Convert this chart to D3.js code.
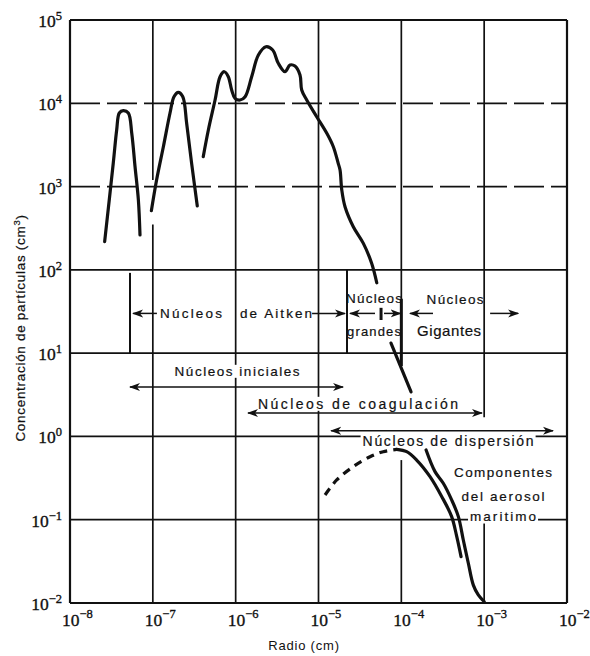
<!DOCTYPE html>
<html><head><meta charset="utf-8">
<script src="https://cdn.jsdelivr.net/npm/d3@7"></script>
<style>body{margin:0;background:#fff}</style>
</head><body><svg id="c" width="590" height="656"></svg>
<script>
// ---- data ----
const xTicks = [1e-8,1e-7,1e-6,1e-5,1e-4,1e-3,1e-2];
const xTickExp = ["−8","−7","−6","−5","−4","−3","−2"];
const yTicks = [1e-2,1e-1,1e0,1e1,1e2,1e3,1e4,1e5];
const yTickExp = ["−2","−1","0","1","2","3","4","5"];
const dashedGridY = [1e3,1e4];

const curve1Radius = [2.62e-8,3.33e-8,3.66e-8,3.94e-8,4.40e-8,5.06e-8,5.56e-8,6.10e-8,6.69e-8,7.00e-8];
const curve1Conc   = [218,1920,4780,7640,8150,7640,4400,1730,690,262];

const curve2Radius = [9.6e-8,1.11e-7,1.34e-7,1.61e-7,1.80e-7,2.03e-7,2.30e-7,2.56e-7,2.94e-7,3.44e-7];
const curve2Conc   = [513,1200,3010,7590,12000,13550,12000,5750,1900,585];

const curve3Radius = [4.06e-7,4.68e-7,5.64e-7,6.48e-7,7.30e-7,8.15e-7,8.95e-7,9.82e-7,1.13e-6,1.30e-6,1.56e-6,1.88e-6,2.32e-6,2.80e-6,3.27e-6,3.94e-6,4.53e-6,5.20e-6,5.98e-6,6.27e-6,7.21e-6,9.51e-6,1.26e-5,1.51e-5,1.73e-5,1.82e-5,1.91e-5,2.09e-5,2.63e-5,3.48e-5,4.38e-5,5.05e-5];
const curve3Conc   = [2285,4780,10950,20860,23930,20860,14450,11480,10950,12000,20860,38000,47800,43600,30200,23930,28800,28000,21900,14450,10950,6900,4360,3010,1900,1580,910,573,330,208,120,70];

const tangentRadius = [7.5e-5,1.31e-4];
const tangentConc   = [13.2,3.42];

const giantRadius = [1.99e-4,2.55e-4,3.21e-4,4.05e-4,4.88e-4,5.60e-4,6.44e-4,7.40e-4,8.49e-4,1.00e-3];
const giantConc   = [0.687,0.378,0.274,0.173,0.109,0.0571,0.030,0.0164,0.0125,0.0104];

const marineRadius = [8.79e-5,1.16e-4,1.53e-4,2.22e-4,3.08e-4,4.05e-4,4.67e-4,5.26e-4];
const marineConc   = [0.70,0.656,0.521,0.329,0.189,0.109,0.0626,0.036];

const marineDashRadius = [1.20e-5,1.66e-5,2.63e-5,4.19e-5,6.05e-5,8.79e-5];
const marineDashConc   = [0.198,0.30,0.434,0.571,0.656,0.70];

// range bars (radius, conc from, conc to)
const barRadius = [5.3e-8, 2.21e-5, 1e-4, 5.69e-5];
const barFrom   = [92, 100, 45, 35];
const barTo     = [10, 10, 7, 25];

// arrows (start radius, end radius, conc, both heads?)
const arrowFrom = [1.12e-7, 8.36e-6, 4.81e-5, 6.18e-5, 2.41e-4, 1.18e-3, 5.30e-8, 1.41e-6, 1.42e-5];
const arrowTo   = [5.77e-8, 2.09e-5, 2.40e-5, 9.8e-5, 1.27e-4, 2.57e-3, 1.98e-5, 9.42e-4, 6.78e-3];
const arrowConc = [30, 30, 30, 30, 30, 30, 3.93, 1.91, 1.17];
const arrowBoth = [false,false,false,false,false,false,true,true,true];

// labels
const labelText   = ["Núcleos","de Aitken","Núcleos","grandes","Núcleos","Gigantes","Núcleos iniciales","Núcleos de coagulación","Núcleos de dispersión","Componentes","del aerosol","maritimo"];
const labelRadius = [2.89e-7,3.07e-6,4.68e-5,4.68e-5,4.45e-4,3.77e-4,1.04e-6,3.0e-5,3.67e-4,1.69e-3,1.69e-3,1.69e-3];
const labelConc   = [30,30,45.9,18.5,45,18.5,6.1,2.45,0.865,0.374,0.193,0.111];

// grid breaks (vertical line radius, conc range hidden)
const breakRadius = [1e-7, 1e-4, 1e-3];
const breakLow    = [350, 0.52, 0.09];
const breakHigh   = [1200, 7, 1.7];

// ---- styling ----
const labelStyle = {
  "Núcleos":{size:13.5,w:[62,56,57]}, "de Aitken":{size:13.5,w:[72]}, "grandes":{size:13,w:[54]},
  "Gigantes":{size:15,w:[64]}, "Núcleos iniciales":{size:13.5,w:[125]},
  "Núcleos de coagulación":{size:14,w:[200]}, "Núcleos de dispersión":{size:14,w:[171]},
  "Componentes":{size:13.5,w:[98]}, "del aerosol":{size:13.5,w:[83]}, "maritimo":{size:13.5,w:[66]}
};

// ---- drawing ----
const svg = d3.select("#c");
const x = d3.scaleLog().domain([1e-8,1e-2]).range([70,567]);
const y = d3.scaleLog().domain([1e-2,1e5]).range([603,20]);
const ink = "#111";
const sans = "'Liberation Sans', Arial, sans-serif";
const serif = "'Liberation Serif', 'Times New Roman', serif";

svg.append("defs").append("marker")
  .attr("id","ah").attr("viewBox","0 -5 11 10").attr("refX",10).attr("refY",0)
  .attr("markerWidth",11).attr("markerHeight",10).attr("markerUnits","userSpaceOnUse")
  .attr("orient","auto-start-reverse")
  .append("path").attr("d","M0,-4L11,0L0,4L3,0Z").attr("fill",ink);

const grid = svg.append("g").attr("stroke",ink).attr("fill","none");
yTicks.forEach(v => {
  const edge = (v===1e-2||v===1e5);
  grid.append("line").attr("x1",x(1e-8)).attr("x2",x(1e-2)).attr("y1",y(v)).attr("y2",y(v))
    .attr("stroke-width",edge?2.2:1.7)
    .attr("stroke-dasharray",dashedGridY.includes(v)?"30,7":null);
});
xTicks.forEach(v => {
  const edge = (v===1e-8||v===1e-2);
  const bi = breakRadius.indexOf(v);
  let segs = [[1e-2,1e5]];
  if (bi>=0) segs = [[1e-2,breakLow[bi]],[breakHigh[bi],1e5]];
  segs.forEach(s => grid.append("line").attr("x1",x(v)).attr("x2",x(v)).attr("y1",y(s[0])).attr("y2",y(s[1]))
    .attr("stroke-width",edge?2.2:1.7));
});

// tick labels
const tl = svg.append("g").attr("font-family",serif).attr("fill",ink).attr("stroke",ink).attr("stroke-width",0.35);
yTicks.forEach((v,i) => {
  const t = tl.append("text").attr("x",62).attr("y",y(v)+7).attr("text-anchor","end").attr("font-size",17.5);
  t.append("tspan").text("10");
  t.append("tspan").attr("dy",-7).attr("font-size",12.5).text(yTickExp[i]);
});
xTicks.forEach((v,i) => {
  const t = tl.append("text").attr("x",x(v)-8).attr("y",626).attr("font-size",17.5);
  t.append("tspan").text("10");
  t.append("tspan").attr("dy",-8).attr("font-size",12.5).text(xTickExp[i]);
});

// axis titles
svg.append("text").attr("x",304).attr("y",650).attr("text-anchor","middle")
  .attr("font-family",sans).attr("font-size",13).attr("letter-spacing",0.8).attr("fill",ink).text("Radio (cm)");
const yt = svg.append("text").attr("transform","translate(25,328) rotate(-90)").attr("text-anchor","middle")
  .attr("font-family",sans).attr("font-size",13.5).attr("letter-spacing",0.7).attr("fill",ink)
  .attr("stroke",ink).attr("stroke-width",0.2);
yt.append("tspan").text("Concentración de partículas (cm");
yt.append("tspan").attr("dy",-5).attr("font-size",9.5).text("3");
yt.append("tspan").attr("dy",5).text(")");

// range bars
const bars = svg.append("g").attr("stroke",ink);
barRadius.forEach((r,i) => bars.append("line").attr("x1",x(r)).attr("x2",x(r))
  .attr("y1",y(barFrom[i])).attr("y2",y(barTo[i])).attr("stroke-width",i>=2?3:2));

// labels with white background
const lab = svg.append("g");
const used = {};
labelText.forEach((txt,i) => {
  const st = labelStyle[txt];
  const k = used[txt] = (used[txt]===undefined ? 0 : used[txt]+1);
  const w = st.w[k];
  const cx = x(labelRadius[i]);
  const t = lab.append("text").attr("x",cx - w/2).attr("y",y(labelConc[i])+4.8)
    .attr("font-family",sans).attr("font-size",st.size)
    .attr("textLength",w).attr("lengthAdjust","spacing").attr("fill",ink)
    .attr("stroke",ink).attr("stroke-width",0.2).text(txt);
  const b = t.node().getBBox();
  if (!["Núcleos","grandes","Gigantes"].includes(txt) || i<2)
    lab.insert("rect","text").attr("x",cx-w/2-2).attr("y",b.y+1).attr("width",w+4).attr("height",b.height-2).attr("fill","#fff");
});

// arrows
const arr = svg.append("g").attr("stroke",ink).attr("stroke-width",1.5);
arrowFrom.forEach((r,i) => arr.append("line").attr("x1",x(r)).attr("x2",x(arrowTo[i]))
  .attr("y1",y(arrowConc[i])).attr("y2",y(arrowConc[i]))
  .attr("marker-end","url(#ah)").attr("marker-start",arrowBoth[i]?"url(#ah)":null));

// curves
const line = d3.line().x(d=>x(d[0])).y(d=>y(d[1])).curve(d3.curveCatmullRom.alpha(0.5));
const cg = svg.append("g").attr("fill","none").attr("stroke",ink).attr("stroke-width",3.2)
  .attr("stroke-linecap","round").attr("stroke-linejoin","round");
[[curve1Radius,curve1Conc],[curve2Radius,curve2Conc],[curve3Radius,curve3Conc],
 [tangentRadius,tangentConc],[giantRadius,giantConc],[marineRadius,marineConc]].forEach(([rs,cs]) => {
  cg.append("path").attr("d",line(d3.zip(rs,cs)));
});
cg.append("path").attr("d",line(d3.zip(marineDashRadius,marineDashConc)))
  .attr("stroke-dasharray","8,6").attr("stroke-linecap","butt");
</script>
</body></html>
